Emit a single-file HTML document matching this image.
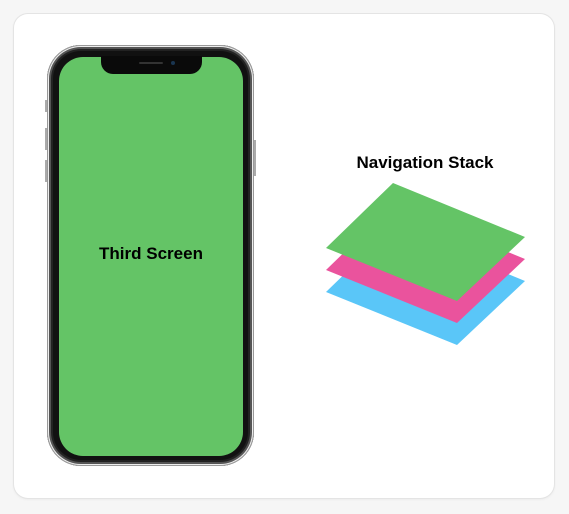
<!DOCTYPE html>
<html><head><style>
body{margin:0;width:569px;height:514px;background:#f6f6f6;position:relative;overflow:hidden;font-family:"Liberation Sans",sans-serif}
.card{position:absolute;left:14px;top:14px;width:540px;height:484px;background:#fff;border-radius:14px;box-shadow:0 0 0 1px #e4e4e4,0 1px 3px rgba(0,0,0,.08)}
.phone{position:absolute;left:47px;top:45px;width:207px;height:421px;border-radius:34px;background:#111;box-shadow:inset 0 0 0 1px #999,inset 0 0 0 2px #eee,inset 0 0 0 4px #555,inset 0 0 0 6px #222}
.screen{position:absolute;left:59px;top:57px;width:184px;height:399px;border-radius:24px;background:#64c466}
.notch{position:absolute;left:101px;top:56px;width:101px;height:18px;background:#0a0a0a;border-radius:0 0 12px 12px}
.spk{position:absolute;left:139px;top:62px;width:24px;height:2px;background:#333;border-radius:1px}
.cam{position:absolute;left:171px;top:61px;width:4px;height:4px;background:#1a3550;border-radius:50%}
.btn{position:absolute;background:#aaa;width:2px}
.t{position:absolute;font-weight:bold;font-size:17px;color:#000}
</style></head><body>
<div class="card"></div>
<div class="btn" style="left:45px;top:100px;height:12px"></div>
<div class="btn" style="left:45px;top:128px;height:22px"></div>
<div class="btn" style="left:45px;top:160px;height:22px"></div>
<div class="btn" style="left:254px;top:140px;height:36px"></div>
<div class="phone"></div>
<div class="screen"></div>
<div class="notch"></div>
<div class="spk"></div>
<div class="cam"></div>
<div class="t" style="left:59px;width:184px;text-align:center;top:244px">Third Screen</div>
<div class="t" style="left:325px;width:200px;text-align:center;top:153px">Navigation Stack</div>
<svg style="position:absolute;left:0;top:0" width="569" height="514">
<polygon points="393,227 525,281 457,345 326,292" fill="#5ac6f8"/>
<polygon points="393,205 525,259 457,323 326,270" fill="#ea539d"/>
<polygon points="393,183 525,237 457,301 326,248" fill="#64c466"/>
</svg>
</body></html>
